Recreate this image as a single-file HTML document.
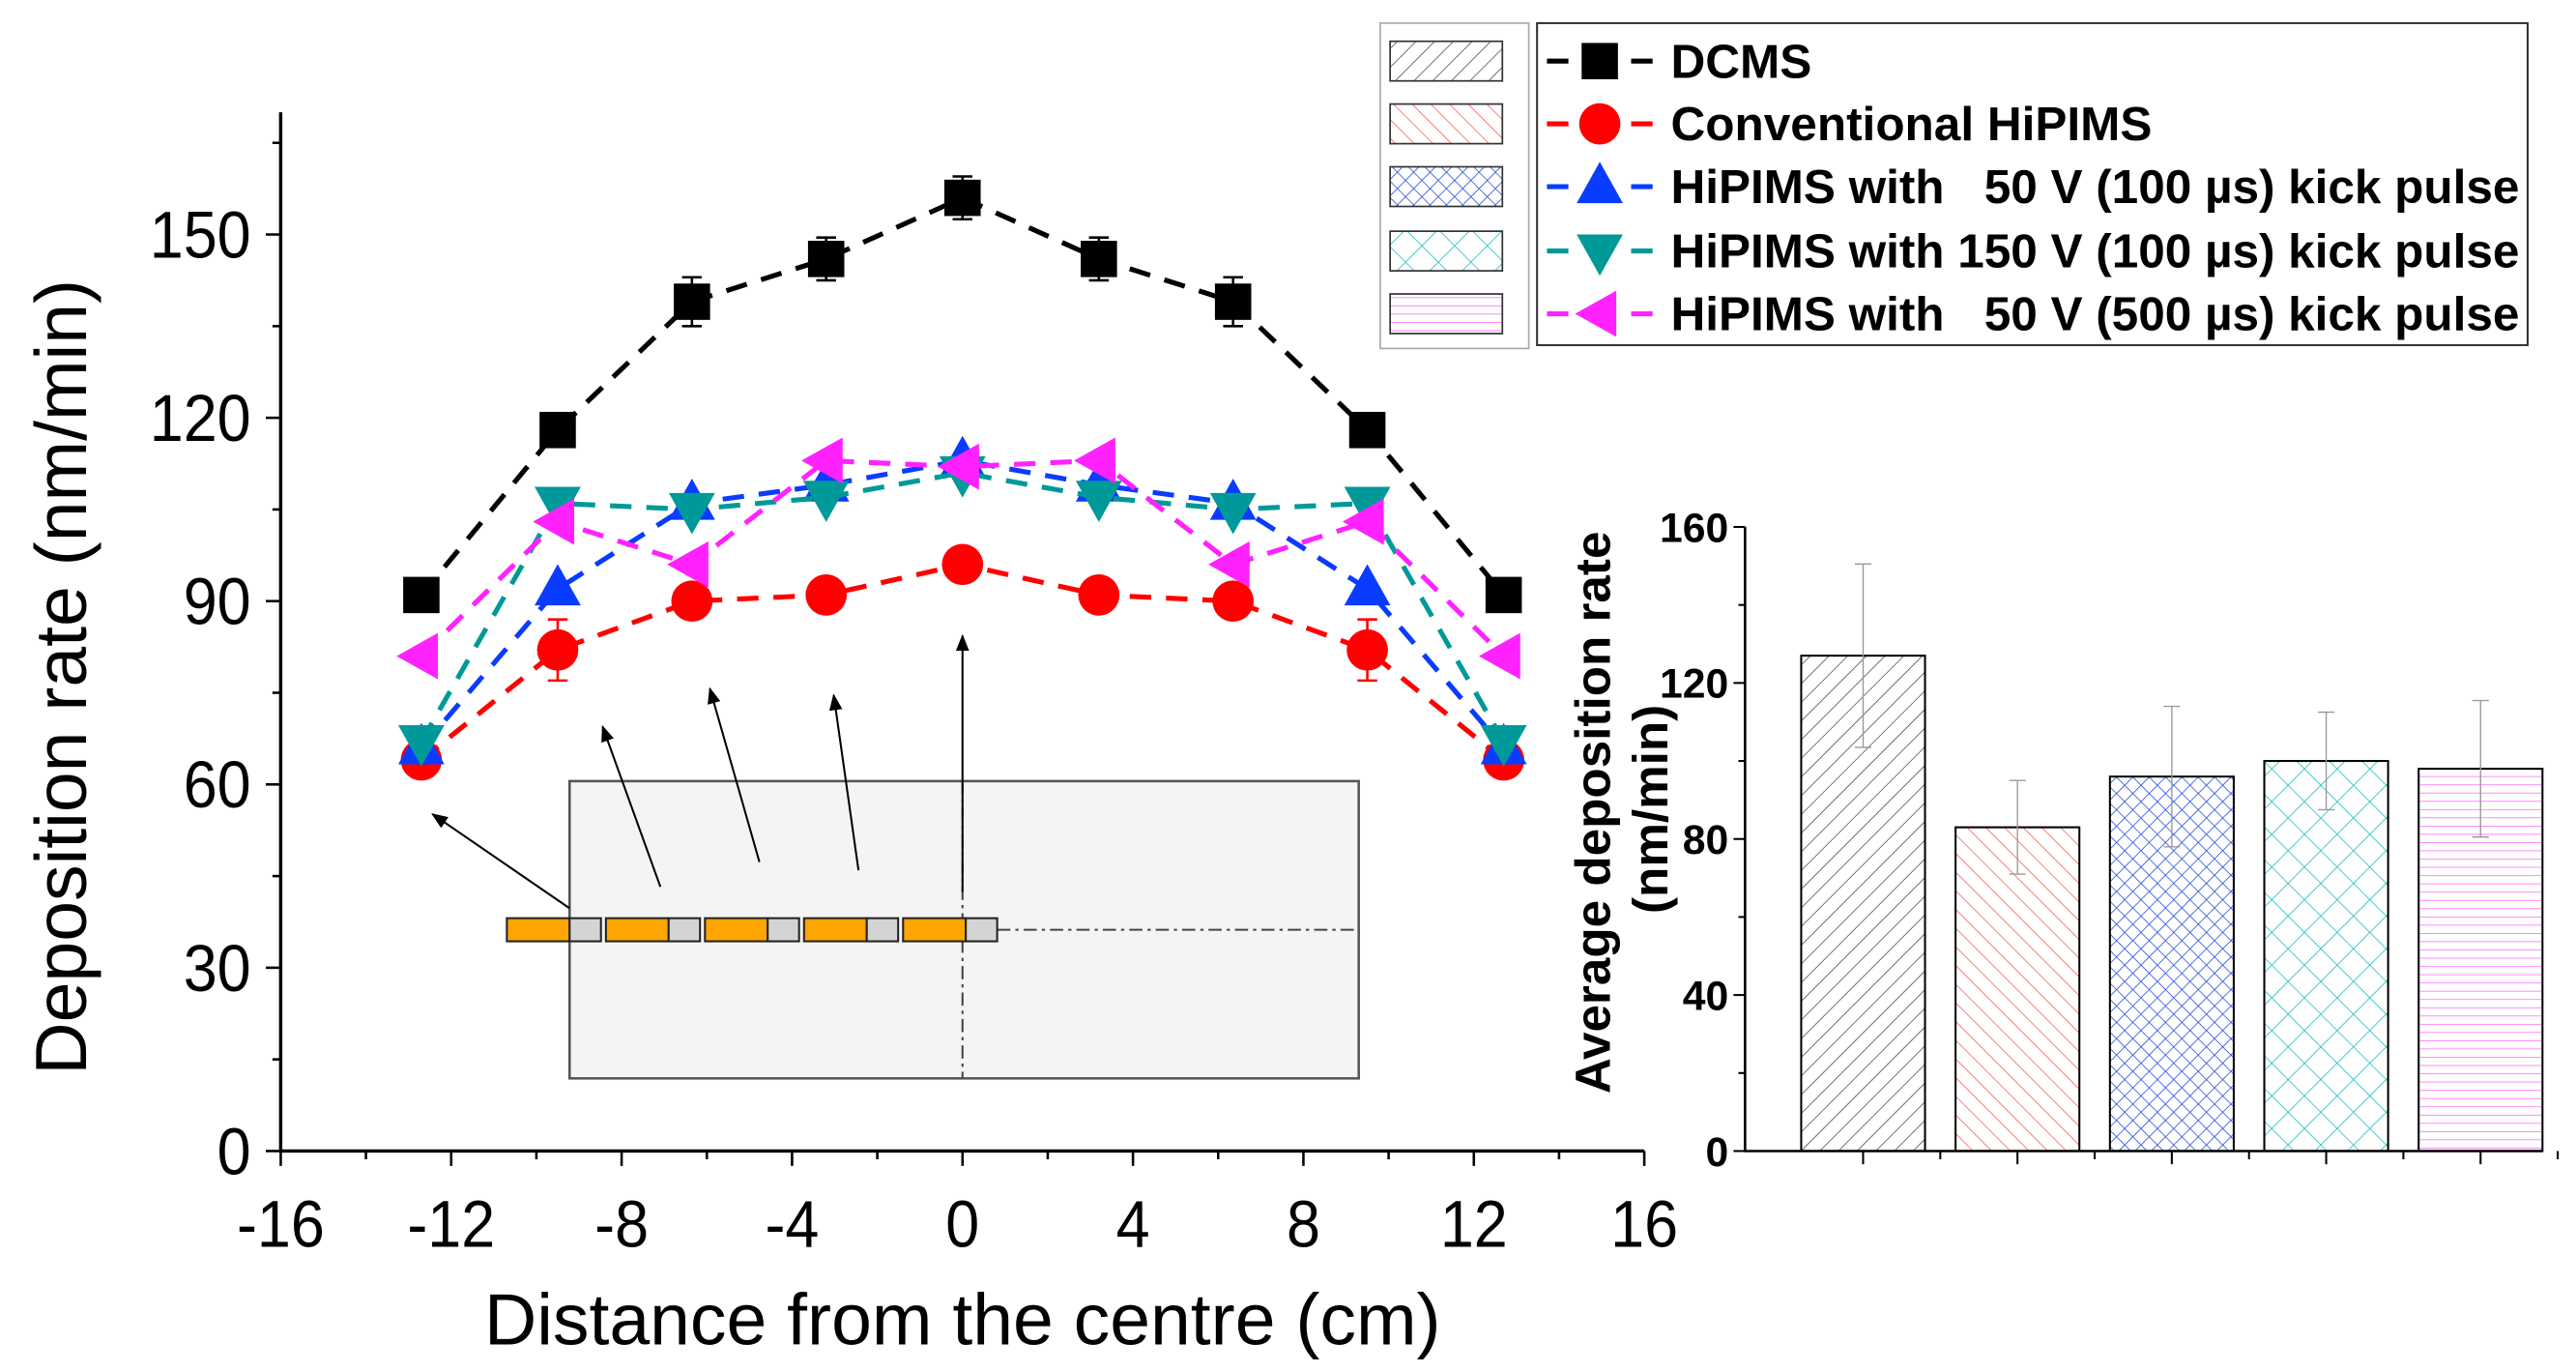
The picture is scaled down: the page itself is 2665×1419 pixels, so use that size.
<!DOCTYPE html>
<html><head><meta charset="utf-8"><style>html,body{margin:0;padding:0;background:#fff}svg{display:block}text{font-family:"Liberation Sans",sans-serif}</style></head>
<body>
<svg id="chart" width="2665" height="1419" viewBox="0 0 1560.3 830.8" xmlns="http://www.w3.org/2000/svg">
<defs>
<pattern id="pDC" width="8" height="8" patternUnits="userSpaceOnUse" patternTransform="rotate(45)"><line x1="0" y1="0" x2="0" y2="8" stroke="#333" stroke-width="0.8"/></pattern>
<pattern id="pCH" width="8" height="8" patternUnits="userSpaceOnUse" patternTransform="rotate(-45)"><line x1="0" y1="0" x2="0" y2="8" stroke="#f44" stroke-width="0.8"/></pattern>
<pattern id="pB" width="7" height="7" patternUnits="userSpaceOnUse" patternTransform="rotate(45)"><path d="M0 0V7M0 0H7" stroke="#2244dd" stroke-width="0.9" fill="none"/></pattern>
<pattern id="pT" width="14" height="14" patternUnits="userSpaceOnUse" patternTransform="rotate(45)"><path d="M0 0V14M0 0H14" stroke="#11bbbb" stroke-width="0.9" fill="none"/></pattern>
<pattern id="pM" width="6" height="5" patternUnits="userSpaceOnUse"><line x1="0" y1="0" x2="6" y2="0" stroke="#f5f" stroke-width="0.8"/></pattern>
<marker id="arr" markerWidth="10" markerHeight="8" refX="9" refY="4" orient="auto" markerUnits="userSpaceOnUse"><path d="M0 0L10 4L0 8z" fill="#000"/></marker>
</defs>
<g id="left"></g>
<g id="inset"></g>
<g id="right"></g>
<g id="legend"></g>
</svg>
<script>
const xPositions = [-12.7, -9.5, -6.35, -3.2, 0, 3.2, 6.35, 9.5, 12.7];
const dcms = [91, 118, 139, 146, 156, 146, 139, 118, 91];
const conv = [64, 82, 90, 91, 96, 91, 90, 82, 64];
const kick50 = [66, 92, 106, 109, 113, 109, 106, 92, 66];
const kick150 = [67, 106, 105, 107, 111, 107, 105, 106, 67];
const kick500 = [81, 103, 96, 113, 112, 113, 96, 103, 81];
const errDcms = [0, 0, 4, 3.5, 3.5, 3.5, 4, 0, 0];
const errConv = [0, 5, 0, 0, 0, 0, 0, 5, 0];
const xTicks = [-16, -12, -8, -4, 0, 4, 8, 12, 16];
const yTicks = [0, 30, 60, 90, 120, 150];
const barLabels = ["DCMS", "Conventional HiPIMS", "HiPIMS with 50 V (100 µs) kick pulse", "HiPIMS with 150 V (100 µs) kick pulse", "HiPIMS with 50 V (500 µs) kick pulse"];
const barValues = [127, 83, 96, 100, 98];
const barErrors = [23.5, 12, 18, 12.5, 17.5];
const barTicks = [0, 40, 80, 120, 160];

const NS = "http://www.w3.org/2000/svg";
function mk(parent, tag, attrs, text) {
  const e = document.createElementNS(NS, tag);
  for (const k in attrs) e.setAttribute(k, attrs[k]);
  if (text !== undefined) e.textContent = text;
  parent.appendChild(e);
  return e;
}
const X = v => 583 + v * 25.81;
const Y = v => 697 - v * 3.7;
const L = document.getElementById('left');

let ax = mk(L, 'path', {d: `M170 68V697H996`, stroke: '#000', 'stroke-width': 2, fill: 'none'});


for (let v = -16; v <= 16; v += 2) {
  const major = v % 4 === 0;
  mk(L, 'line', {x1: X(v), x2: X(v), y1: 697, y2: 697 + (major ? 9 : 5), stroke: '#000', 'stroke-width': 1.5});
}
xTicks.forEach(v => {
  const t = mk(L, 'text', {x: X(v), y: 755, 'font-size': 40, 'text-anchor': 'middle', transform: `translate(${X(v)*0.08},0) scale(0.92,1)`}, String(v));
  
  
});
for (let v = 0; v <= 165; v += 15) {
  const major = v % 30 === 0;
  mk(L, 'line', {x1: 170, x2: 170 - (major ? 9 : 5), y1: Y(v), y2: Y(v), stroke: '#000', 'stroke-width': 1.5});
}
yTicks.forEach(v => {
  const t = mk(L, 'text', {x: 152, y: Y(v) + 14, 'font-size': 40, 'text-anchor': 'end', transform: `translate(${152*0.08},0) scale(0.92,1)`}, String(v));
  
  
});
let xt = mk(L, 'text', {x: 583, y: 814, 'font-size': 44, 'text-anchor': 'middle'}, 'Distance from the centre (cm)');


let yt = mk(L, 'text', {x: 0, y: 0, 'font-size': 44, 'text-anchor': 'middle', transform: 'translate(52,410) rotate(-90)'}, 'Deposition rate (nm/min)');



function marker(g, shape, x, y, color) {
  let e;
  if (shape === 'square') e = mk(g, 'rect', {x: x - 11, y: y - 11, width: 22, height: 22, fill: color});
  else if (shape === 'circle') e = mk(g, 'circle', {cx: x, cy: y, r: 12.5, fill: color});
  else if (shape === 'up') e = mk(g, 'path', {d: `M${x} ${y-15}L${x+14} ${y+10}L${x-14} ${y+10}z`, fill: color});
  else if (shape === 'down') e = mk(g, 'path', {d: `M${x} ${y+15}L${x+14} ${y-10}L${x-14} ${y-10}z`, fill: color});
  else e = mk(g, 'path', {d: `M${x-15} ${y}L${x+10} ${y-14}L${x+10} ${y+14}z`, fill: color});
  
  
}
const series = [
  {name: 'series-dcms', vals: dcms, err: errDcms, color: '#000', shape: 'square'},
  {name: 'series-conventional', vals: conv, err: errConv, color: '#f00', shape: 'circle'},
  {name: 'series-50v-100us', vals: kick50, err: null, color: '#0a3cff', shape: 'up'},
  {name: 'series-150v-100us', vals: kick150, err: null, color: '#009999', shape: 'down'},
  {name: 'series-50v-500us', vals: kick500, err: null, color: '#ff22ff', shape: 'left'}
];
[0, 1, 2, 3, 4].forEach(i => {
  const s = series[i];
  const g = mk(L, 'g', {});
  
  
  const d = s.vals.map((v, k) => (k ? 'L' : 'M') + X(xPositions[k]) + ' ' + Y(v)).join('');
  mk(g, 'path', {d, stroke: s.color, 'stroke-width': 3, 'stroke-dasharray': '13 9', fill: 'none'});
  if (s.err) s.vals.forEach((v, k) => {
    const e = s.err[k]; if (!e) return;
    const x = X(xPositions[k]);
    mk(g, 'path', {d: `M${x} ${Y(v+e)}V${Y(v-e)}M${x-6} ${Y(v+e)}H${x+6}M${x-6} ${Y(v-e)}H${x+6}`, stroke: s.color, 'stroke-width': 1.5, fill: 'none'});
  });
  s.vals.forEach((v, k) => marker(g, s.shape, X(xPositions[k]), Y(v), s.color));
});

const I = document.getElementById('inset');
let r = mk(I, 'rect', {x: 345, y: 473, width: 478, height: 180, fill: '#f4f4f4', stroke: '#555', 'stroke-width': 1.5});


mk(I, 'path', {d: 'M583 473V653M604 563H823', stroke: '#444', 'stroke-width': 1.2, 'stroke-dasharray': '8 3 2 3', fill: 'none'});
[307, 367, 427, 487, 547].forEach(x0 => {
  const o = mk(I, 'rect', {x: x0, y: 556, width: 38, height: 14, fill: '#ffa500', stroke: '#222', 'stroke-width': 1.2});
  
  
  mk(I, 'rect', {x: x0 + 38, y: 556, width: 19, height: 14, fill: '#d4d4d4', stroke: '#222', 'stroke-width': 1.2});
});
[[345,550,262,493],[400,537,365,440],[460,522,430,417],[520,527,505,421],[583,540,583,385]].forEach(a => {
  const l = mk(I, 'line', {x1: a[0], y1: a[1], x2: a[2], y2: a[3], stroke: '#000', 'stroke-width': 1.2, 'marker-end': 'url(#arr)'});
  
  
});

const R = document.getElementById('right');
const BY = v => 697 - v * 2.362;
const fills = ['url(#pDC)', 'url(#pCH)', 'url(#pB)', 'url(#pT)', 'url(#pM)'];
const bx0 = 1091, bstep = 93.5, bw = 75;
barValues.forEach((v, i) => {
  const x = bx0 + i * bstep;
  const b = mk(R, 'rect', {x, y: BY(v), width: bw, height: BY(0) - BY(v), fill: fills[i], stroke: '#000', 'stroke-width': 1.2});
  
  
  const cx = x + bw / 2, e = barErrors[i];
  mk(R, 'path', {d: `M${cx} ${BY(v+e)}V${BY(v-e)}M${cx-5} ${BY(v+e)}H${cx+5}M${cx-5} ${BY(v-e)}H${cx+5}`, stroke: '#999', 'stroke-width': 0.8, fill: 'none'});
});
mk(R, 'path', {d: 'M1057 319V697H1540', stroke: '#000', 'stroke-width': 1.5, fill: 'none'});
for (let v = 0; v <= 160; v += 20) mk(R, 'line', {x1: 1057, x2: 1057 - (v % 40 ? 4 : 7), y1: BY(v), y2: BY(v), stroke: '#000', 'stroke-width': 1.2});
barValues.forEach((v, i) => {
  const cx = bx0 + i * bstep + bw / 2;
  mk(R, 'line', {x1: cx, x2: cx, y1: 697, y2: 705, stroke: '#000', 'stroke-width': 1.2});
  mk(R, 'line', {x1: cx + bstep / 2, x2: cx + bstep / 2, y1: 697, y2: 702, stroke: '#000', 'stroke-width': 1.2});
});
barTicks.forEach(v => {
  const t = mk(R, 'text', {x: 1047, y: BY(v) + 9, 'font-size': 25, 'font-weight': 'bold', 'text-anchor': 'end'}, String(v));
  
  
});
let bt = mk(R, 'text', {x: 0, y: 0, 'font-size': 30, 'font-weight': 'bold', 'text-anchor': 'middle', transform: 'translate(975,492) rotate(-90)'}, 'Average deposition rate');


let bt2 = mk(R, 'text', {x: 0, y: 0, 'font-size': 30, 'font-weight': 'bold', 'text-anchor': 'middle', transform: 'translate(1010,490) rotate(-90)'}, '(nm/min)');



const G = document.getElementById('legend');
mk(G, 'rect', {x: 836, y: 14, width: 90, height: 197, fill: '#fff', stroke: '#aaa', 'stroke-width': 1});
mk(G, 'rect', {x: 931, y: 14, width: 600, height: 195, fill: '#fff', stroke: '#333', 'stroke-width': 1.2});
const rowY = [37, 75, 113, 152, 190];
const legText = ['DCMS', 'Conventional HiPIMS', 'HiPIMS with \u00a0 50 V (100 \u00b5s) kick pulse', 'HiPIMS with 150 V (100 \u00b5s) kick pulse', 'HiPIMS with \u00a0 50 V (500 \u00b5s) kick pulse'];
rowY.forEach((y, i) => {
  const s = series[i];
  const sw = mk(G, 'rect', {x: 842, y: y - 12, width: 68, height: 24, fill: fills[i], stroke: '#333', 'stroke-width': 1});
  
  
  mk(G, 'path', {d: `M937 ${y}H950M988 ${y}H1001`, stroke: s.color, 'stroke-width': 3});
  marker(G, s.shape, 969, y, s.color);
  const t = mk(G, 'text', {x: 1012, y: y + 10, 'font-size': 29, 'font-weight': 'bold'}, legText[i]);
  if (i >= 2) t.setAttribute('textLength', 514);
  
  
});
</script>
</body></html>
